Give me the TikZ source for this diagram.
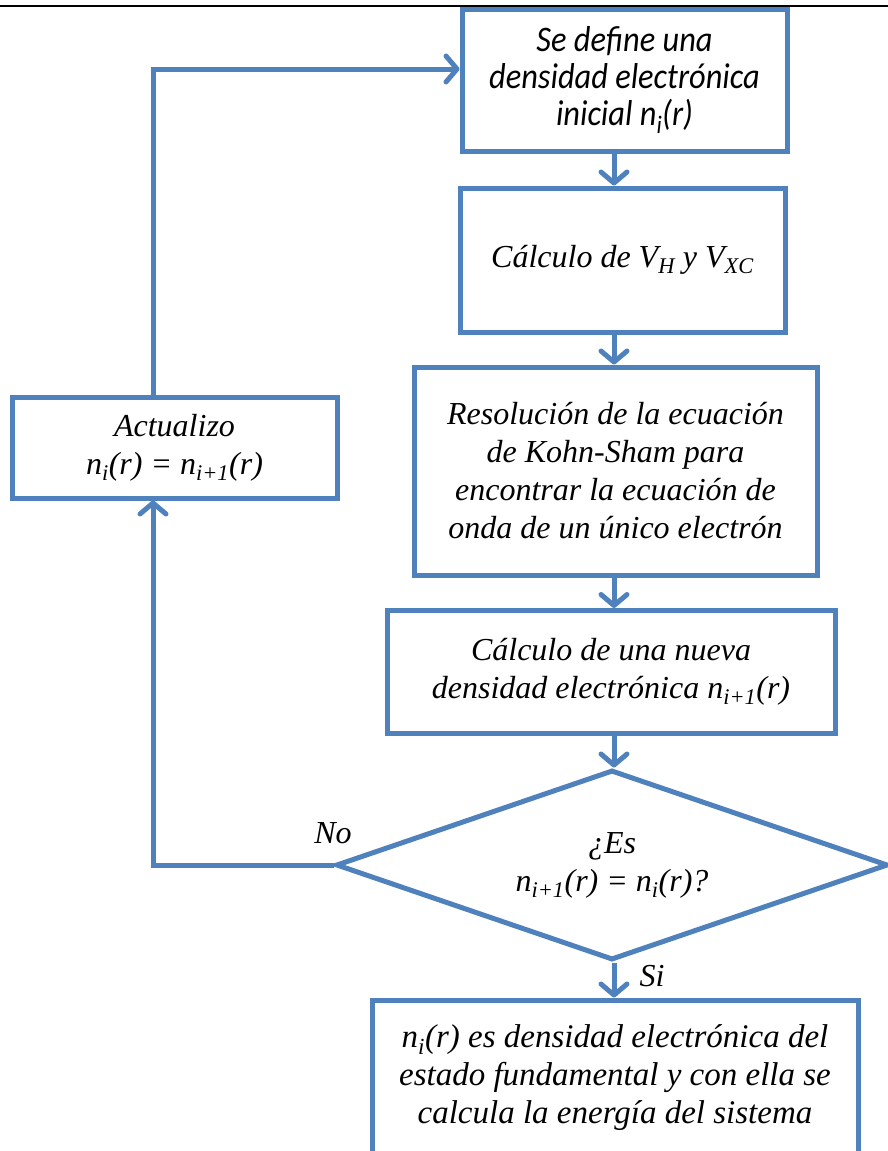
\documentclass[tikz,border=0pt]{standalone}
\usepackage{fontspec}
\setmainfont{Liberation Serif}
\newfontfamily\calib[FakeStretch=0.9]{Carlito}
\usetikzlibrary{arrows.meta,shapes.geometric}
\definecolor{ob}{HTML}{4F81BD}
\begin{document}
\begin{tikzpicture}[x=1pt,y=-1pt,
  txt/.style={font=\fontsize{32}{38}\selectfont\itshape},
  box/.style={draw=ob,line width=5pt,fill=white,rectangle,inner sep=0pt,align=center,txt},
  dia/.style={draw=ob,line width=5pt,fill=white,diamond,inner sep=0pt,align=center,txt,aspect=2.9},
  arr/.style={draw=ob,line width=5pt,-{Straight Barb[length=11pt,width=26pt,line cap=round,line join=round]}},
  lbl/.style={txt,inner sep=0pt}
]
\path[use as bounding box] (0,0) rectangle (888,1151);
\clip (0,0) rectangle (888,1151);
\coordinate (tl) at (0,6);
\coordinate (tr) at (888,6);
\draw[line width=2.5pt,black] (tl) -- (tr);
\coordinate (spine) at (614,0);
\coordinate (loop) at (153,0);
\coordinate (ytop) at (0,69);

\node[box,font=\calib\fontsize{36}{37}\selectfont\itshape,minimum width=325pt,minimum height=142pt] (b1) at (624.5,80)
  {Se define una\\densidad electrónica\\inicial n\textsubscript{i}(r)};
\node[box,minimum width=325pt,minimum height=144pt] (b2) at (622.5,260)
  {Cálculo de V\textsubscript{H} y V\textsubscript{XC}};
\node[box,minimum width=403pt,minimum height=208pt] (b3) at (615.5,471)
  {Resolución de la ecuación\\de Kohn-Sham para\\encontrar la ecuación de\\onda de un único electrón};
\node[box,minimum width=448pt,minimum height=123pt] (b4) at (611,672)
  {Cálculo de una nueva\\densidad electrónica n\textsubscript{i+1}(r)};
\node[dia,minimum width=552pt,minimum height=190pt] (d) at (612,865)
  {¿Es\\n\textsubscript{i+1}(r) = n\textsubscript{i}(r)?};
\node[box,font=\fontsize{33}{38}\selectfont\itshape,minimum width=486pt,minimum height=156pt] (b5) at (615,1078)
  {n\textsubscript{i}(r) es densidad electrónica del\\estado fundamental y con ella se\\calcula la energía del sistema};
\node[box,minimum width=325pt,minimum height=101pt] (lb) at (174.5,447.5)
  {Actualizo\\n\textsubscript{i}(r) = n\textsubscript{i+1}(r)};

\draw[arr] (b1.south -| spine) -- (b2.north -| spine);
\draw[arr] (b2.south -| spine) -- (b3.north -| spine);
\draw[arr] (b3.south -| spine) -- (b4.north -| spine);
\draw[arr] (b4.south -| spine) -- (d.north -| spine);
\draw[arr] (d.south -| spine) -- (b5.north -| spine);
\draw[arr] (d.west) -- (d.west -| loop) -- (lb.south -| loop);
\draw[arr] (lb.north -| loop) |- (b1.west |- ytop);

\node[lbl] (no) at (333,833) {No};
\node[lbl] (si) at (652,976) {Si};
\end{tikzpicture}
\end{document}
